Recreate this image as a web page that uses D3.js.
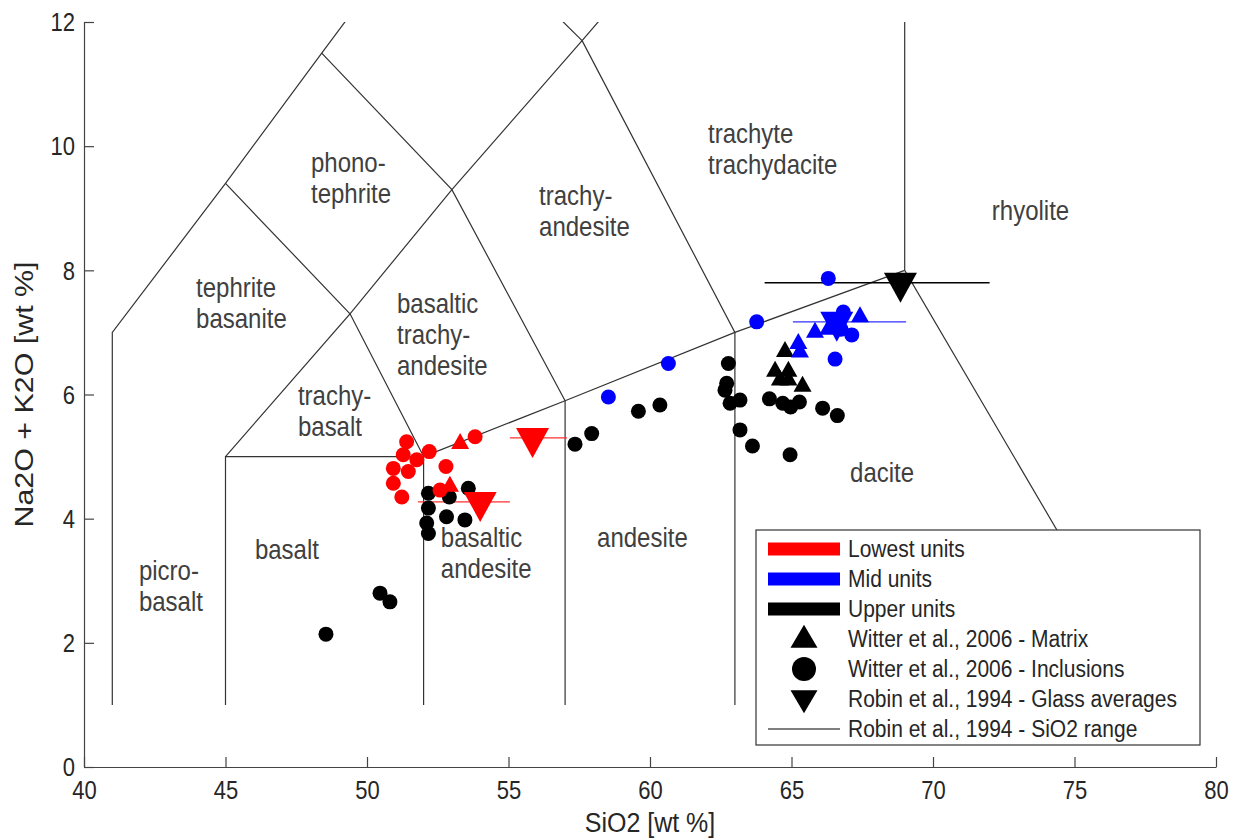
<!DOCTYPE html>
<html><head><meta charset="utf-8">
<script src="https://cdn.jsdelivr.net/npm/d3@7"></script>
<style>body{margin:0;background:#fff}svg{display:block}text{font-family:"Liberation Sans",Arial,sans-serif}</style>
</head><body><svg id="c" width="1235" height="839"></svg>
<script>
// ---- data ----
const xTicks = [40,45,50,55,60,65,70,75,80];
const yTicks = [0,2,4,6,8,10,12];
const tasSegments = [
  [[41,1],[41,7],[45,9.4],[48.4,11.5],[52.5,14]],
  [[45,1],[45,5],[52,5]],
  [[52,1],[52,5]],
  [[45,5],[49.4,7.3],[52,5]],
  [[45,9.4],[49.4,7.3],[53,9.3],[57.6,11.7],[61,13.5]],
  [[48.4,11.5],[53,9.3],[57,5.9]],
  [[57,1],[57,5.9]],
  [[52,5],[57,5.9],[63,7],[69,8]],
  [[57.6,11.7],[63,7],[63,1]],
  [[52.5,14],[57.6,11.7]],
  [[69,13],[69,8],[78,1]]
];
// label anchor: left edge x, centre of first line y (data units)
const regionLabels = [
  {x:41.94, y:3.17, t:["picro-","basalt"]},
  {x:46.04, y:3.50, t:["basalt"]},
  {x:52.61, y:3.70, t:["basaltic","andesite"]},
  {x:58.13, y:3.70, t:["andesite"]},
  {x:67.07, y:4.75, t:["dacite"]},
  {x:72.08, y:8.97, t:["rhyolite"]},
  {x:62.05, y:10.21, t:["trachyte","trachydacite"]},
  {x:56.08, y:9.20, t:["trachy-","andesite"]},
  {x:48.02, y:9.73, t:["phono-","tephrite"]},
  {x:43.96, y:7.73, t:["tephrite","basanite"]},
  {x:51.06, y:7.47, t:["basaltic","trachy-","andesite"]},
  {x:47.56, y:5.98, t:["trachy-","basalt"]}
];
// Witter et al., 2006 - Matrix
const lowMatrix = [[53.29,5.21],[52.93,4.52]];
const midMatrix = [[65.24,6.82],[65.30,6.68],[65.83,7.0],[66.30,7.05],[66.7,7.15],[67.42,7.25]];
const upMatrix  = [[64.77,6.69],[64.42,6.37],[64.89,6.37],[64.59,6.23],[64.89,6.23],[65.39,6.13]];
// Witter et al., 2006 - Inclusions
const lowIncl = [[51.40,5.24],[53.82,5.32],[52.20,5.08],[51.28,5.03],[51.76,4.95],[50.93,4.81],[51.46,4.76],[52.79,4.84],[50.93,4.57],[51.23,4.35],[52.58,4.46]];
const midIncl = [[58.53,5.96],[60.65,6.50],[63.77,7.17],[66.30,7.87],[66.83,7.33],[67.13,6.96],[66.54,6.57],[66.75,7.05]];
const upIncl  = [[52.17,4.41],[52.91,4.35],[53.58,4.49],[52.17,4.17],[52.81,4.03],[53.46,3.98],[52.11,3.93],[52.17,3.76],
  [50.46,2.80],[50.81,2.66],[48.55,2.14],[57.35,5.20],[57.94,5.37],[59.59,5.73],[60.35,5.83],
  [62.77,6.50],[62.71,6.18],[62.65,6.07],[62.83,5.86],[63.18,5.91],[63.18,5.43],[63.62,5.17],
  [64.22,5.93],[64.69,5.86],[64.97,5.80],[65.28,5.88],[66.10,5.78],[66.62,5.66],[64.95,5.03]];
// Robin et al., 1994 - Glass averages [SiO2, alk, minSiO2, maxSiO2]
const lowGlass = [[55.85,5.30,55.05,57.07],[54.0,4.27,51.8,55.05]];
const midGlass = [[66.6,7.17,65.05,69.05]];
const upGlass  = [[68.85,7.80,64.05,72.0]];
const legendLabels = ["Lowest units","Mid units","Upper units","Witter et al., 2006 - Matrix","Witter et al., 2006 - Inclusions","Robin et al., 1994 - Glass averages","Robin et al., 1994 - SiO2 range"];

// ---- drawing ----
const SY = 1.13; // vertical stretch of glyphs seen in the reference
const svg = d3.select("#c");
const L=84, R=1216, T=22, B=767;
const x = d3.scaleLinear().domain([40,80]).range([L,R]);
const y = d3.scaleLinear().domain([0,12]).range([B,T]);
svg.append("defs").append("clipPath").attr("id","clip").append("rect").attr("x",L).attr("y",T).attr("width",R-L).attr("height",B-T);
const plot = svg.append("g").attr("clip-path","url(#clip)");
const line = d3.line().x(d=>x(d[0])).y(d=>y(d[1]));
plot.selectAll("path.tas").data(tasSegments).join("path").attr("class","tas")
  .attr("d",line).attr("fill","none").attr("stroke","#333").attr("stroke-width",1.2);

// labels
const lg = svg.append("g").attr("fill","#404040").attr("font-size",24);
regionLabels.forEach(l=>{
  const gg = lg.append("g").attr("transform",`translate(${x(l.x)},${y(l.y)}) scale(1,${SY})`);
  const t = gg.append("text").attr("x",0).attr("y",0).attr("dy","0.35em");
  l.t.forEach((s,i)=>t.append("tspan").attr("x",0).attr("dy",i?(31/SY):"0.35em").text(s));
});

// axes
const ax = svg.append("g").attr("transform",`translate(0,${B})`).call(d3.axisBottom(x).tickValues(xTicks).tickSizeInner(-10).tickSizeOuter(0));
const ay = svg.append("g").attr("transform",`translate(${L},0)`).call(d3.axisLeft(y).tickValues(yTicks).tickSizeInner(-10).tickSizeOuter(0).tickPadding(9));
[ax,ay].forEach(a=>{a.selectAll("path,line").attr("stroke","#444").attr("stroke-width",1.2);
  a.selectAll("text").attr("font-size",22).attr("fill","#262626").attr("font-family","Liberation Sans, Arial, sans-serif")
   .attr("transform",`scale(1,${SY})`);});
ax.selectAll("text").attr("y",23/SY).attr("dy","0.35em");
ay.selectAll("text").attr("dy","0.35em");
svg.append("g").attr("transform",`translate(${(L+R)/2},822) scale(1,${SY})`).append("text").attr("dy","0.35em")
  .attr("text-anchor","middle").attr("font-size",25).attr("fill","#262626").text("SiO2 [wt %]");
svg.append("g").attr("transform",`translate(24,${(T+B)/2}) rotate(-90) scale(${SY+0.04},1)`).append("text").attr("dy","0.35em")
  .attr("text-anchor","middle").attr("font-size",26).attr("fill","#262626").text("Na2O + K2O [wt %]");

// markers
const triUp=(w,h)=>`M0,${-2*h/3}L${w/2},${h/3}L${-w/2},${h/3}Z`;
const triDown=(w,h)=>`M0,${2*h/3}L${w/2},${-h/3}L${-w/2},${-h/3}Z`;
const g = svg.append("g");
function ranges(data,col){
  g.selectAll(null).data(data).join("line").attr("x1",d=>x(d[2])).attr("x2",d=>x(d[3])).attr("y1",d=>y(d[1])).attr("y2",d=>y(d[1]))
   .attr("stroke",col).attr("stroke-width",1.3);
}
function glass(data,col){
  g.selectAll(null).data(data).join("path").attr("d",triDown(33,30)).attr("transform",d=>`translate(${x(d[0])},${y(d[1])})`).attr("fill",col);
}
function circ(data,col){
  g.selectAll(null).data(data).join("circle").attr("cx",d=>x(d[0])).attr("cy",d=>y(d[1])).attr("r",7.5).attr("fill",col);
}
function mat(data,col){
  g.selectAll(null).data(data).join("path").attr("d",triUp(18,16)).attr("transform",d=>`translate(${x(d[0])},${y(d[1])})`).attr("fill",col);
}
ranges(upGlass,"#000"); ranges(lowGlass,"#ff3030"); ranges(midGlass,"#3030ff");
circ(upIncl,"#000"); mat(upMatrix,"#000");
circ(lowIncl,"#ff0000"); mat(lowMatrix,"#ff0000");
glass(lowGlass,"#ff0000");
circ(midIncl,"#0000ff"); mat(midMatrix,"#0000ff"); glass(midGlass,"#0000ff");
glass(upGlass,"#000");

// legend
const leg = svg.append("g");
leg.append("rect").attr("x",756).attr("y",530).attr("width",444).attr("height",215).attr("fill","#fff").attr("stroke","#333").attr("stroke-width",1.2);
const rowY = i=>549+i*30;
["#ff0000","#0000ff","#000"].forEach((c,i)=>leg.append("rect").attr("x",768).attr("y",rowY(i)-6.5).attr("width",72).attr("height",13).attr("fill",c));
leg.append("path").attr("d",triUp(27,23)).attr("transform",`translate(804,${rowY(3)+1})`).attr("fill","#000");
leg.append("circle").attr("cx",804).attr("cy",rowY(4)).attr("r",12).attr("fill","#000");
leg.append("path").attr("d",triDown(27,23)).attr("transform",`translate(804,${rowY(5)-1})`).attr("fill","#000");
leg.append("line").attr("x1",768).attr("x2",840).attr("y1",rowY(6)).attr("y2",rowY(6)).attr("stroke","#000").attr("stroke-width",1);
legendLabels.forEach((d,i)=>leg.append("g").attr("transform",`translate(848,${rowY(i)}) scale(1,${SY})`)
  .append("text").attr("dy","0.35em").attr("font-size",21).attr("fill","#262626").text(d));
</script></body></html>
